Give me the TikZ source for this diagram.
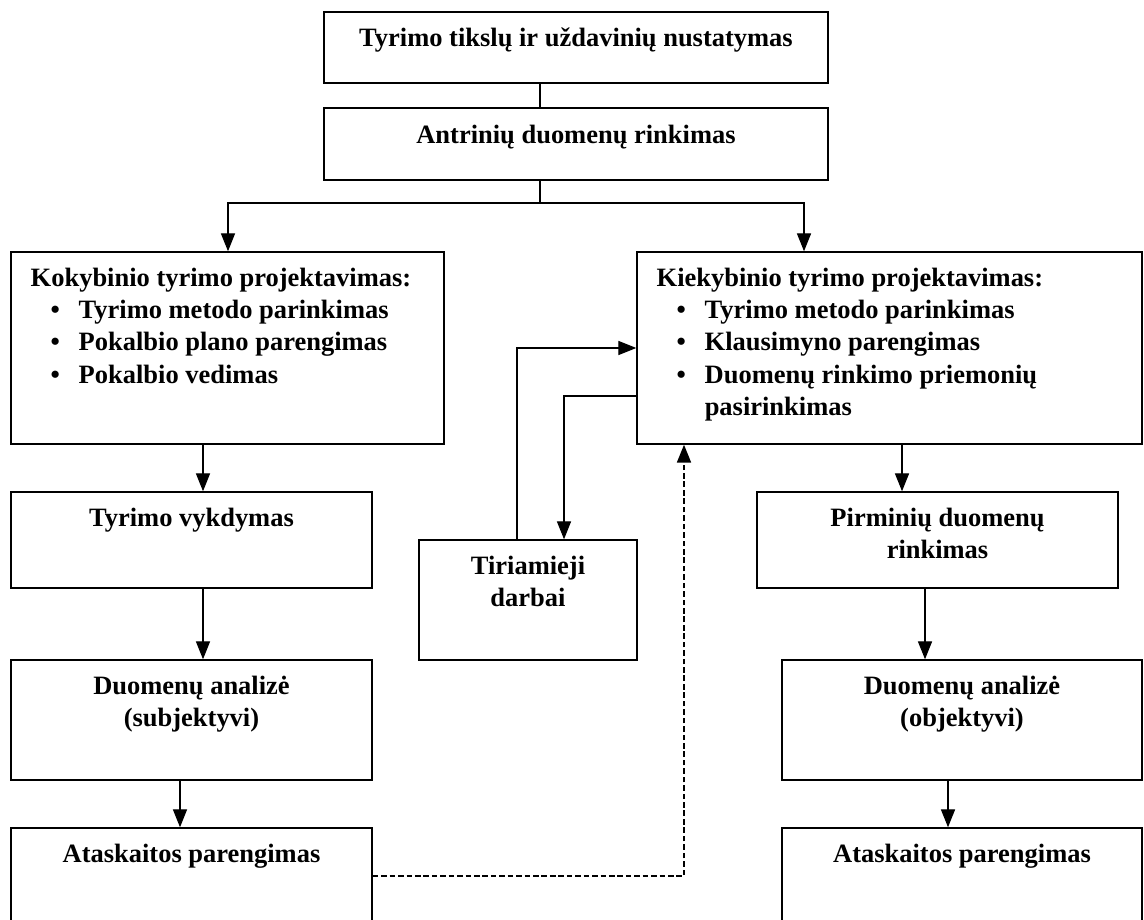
\documentclass[tikz,border=0pt]{standalone}
\usepackage{fontspec}
\setmainfont{Liberation Serif}
\usetikzlibrary{calc,arrows.meta,fit,positioning}
\newcommand{\blok}[5]{\node[box,fit={(#2,#3) (#4,#5)}] (#1) {};}
\newcommand{\pnt}{\hspace*{8.5pt}\makebox[12pt][l]{\textbullet}}
\tikzset{
  box/.style={draw,line width=0.65pt,inner sep=0pt},
  txt/.style={anchor=base,align=center,inner sep=0pt,font=\fontsize{11.3}{13.8}\selectfont\bfseries},
  flow/.style={line width=0.45pt,-{Triangle[length=7.6pt,width=6pt]}},
  back/.style={line width=0.6pt,dash pattern=on 2.4pt off 1.2pt,-{Triangle[length=7.6pt,width=6pt]}}
}
\begin{document}
\begin{tikzpicture}[x=0.015cm,y=-0.015cm]
\path[use as bounding box,clip] (0,0) rectangle (1144,920);
\blok{top}{324}{12}{828}{83}\blok{antr}{324}{108}{828}{180}
\blok{kok}{11}{252}{444}{444}\blok{kiek}{637}{252}{1142}{444}
\blok{vykd}{11}{492}{372}{588}\blok{tir}{419}{540}{637}{660}\blok{pirm}{757}{492}{1118}{588}
\blok{anl}{11}{660}{372}{780}\blok{ano}{782}{660}{1142}{780}
\blok{atl}{11}{828}{372}{950}\blok{atr}{782}{828}{1142}{950}
% base anchor sits on the last line, so shift by 32.3 per extra line
\node[txt] (ttop) at ($(top.north)+(0,35)$) {Tyrimo tikslų ir uždavinių nustatymas};
\node[txt] (tantr) at ($(antr.north)+(0,36)$) {Antrinių duomenų rinkimas};
\node[txt,anchor=base west,align=left] (tkok) at ($(kok.north west)+(20,35+3*32.3)$) {Kokybinio tyrimo projektavimas:\\\pnt Tyrimo metodo parinkimas\\\pnt Pokalbio plano parengimas\\\pnt Pokalbio vedimas};
\node[txt,anchor=base west,align=left] (tkiek) at ($(kiek.north west)+(20,35+4*32.3)$) {Kiekybinio tyrimo projektavimas:\\\pnt Tyrimo metodo parinkimas\\\pnt Klausimyno parengimas\\\pnt Duomenų rinkimo priemonių\\\hspace*{20.5pt}pasirinkimas};
\node[txt] (tvykd) at ($(vykd.north)+(0,35)$) {Tyrimo vykdymas};
\node[txt] (ttir) at ($(tir.north)+(0,35+32.3)$) {Tiriamieji\\darbai};
\node[txt] (tpirm) at ($(pirm.north)+(0,35+32.3)$) {Pirminių duomenų\\rinkimas};
\node[txt] (tanl) at ($(anl.north)+(0,35+32.3)$) {Duomenų analizė\\(subjektyvi)};
\node[txt] (tano) at ($(ano.north)+(0,35+32.3)$) {Duomenų analizė\\(objektyvi)};
\node[txt] (tatl) at ($(atl.north)+(0,35)$) {Ataskaitos parengimas};
\node[txt] (tatr) at ($(atr.north)+(0,35)$) {Ataskaitos parengimas};
\coordinate (split) at (540,203);
\draw[line width=0.45pt] (top.south -| split) -- (antr.north -| split);
\draw[line width=0.45pt] (antr.south -| split) -- (split);
\draw[flow] (split) -| (kok.north -| 228,0);
\draw[flow] (split) -| (kiek.north -| 804,0);
\draw[flow] (kok.south -| 203,0) -- (vykd.north -| 203,0);
\draw[flow] (vykd.south -| 203,0) -- (anl.north -| 203,0);
\draw[flow] (anl.south -| 180,0) -- (atl.north -| 180,0);
\draw[flow] (kiek.south -| 902,0) -- (pirm.north -| 902,0);
\draw[flow] (pirm.south -| 925,0) -- (ano.north -| 925,0);
\draw[flow] (ano.south -| 948,0) -- (atr.north -| 948,0);
\draw[flow] (tir.north -| 517,0) |- (kiek.west |- 0,348);
\draw[flow] (kiek.west |- 0,396) -| (tir.north -| 564,0);
\draw[back] (atl.east |- 0,876) -| (kiek.south -| 684,0);
\end{tikzpicture}
\end{document}
